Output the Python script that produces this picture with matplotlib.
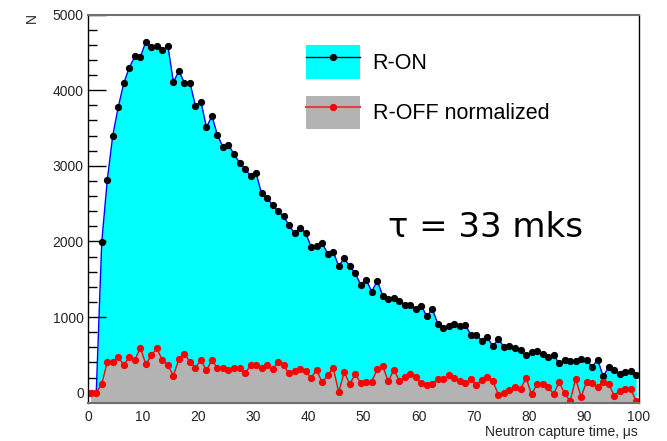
import numpy as np
import matplotlib
matplotlib.use('Agg')
import matplotlib.pyplot as plt
from matplotlib.patches import Patch
from matplotlib.lines import Line2D
from matplotlib.ticker import MultipleLocator

plt.rcParams['font.family'] = ['Liberation Sans', 'DejaVu Sans']

# bin centres, 1 us bins
t = np.arange(100) + 0.5

r_on = [0, 0, 1990, 2810, 3400, 3777, 4094, 4297, 4446, 4437,
        4640, 4569, 4587, 4525, 4587, 4107, 4252, 4099, 4099, 3795,
        3848, 3509, 3658, 3404, 3250, 3281, 3152, 3042, 2963, 2866,
        2906, 2636, 2575, 2482, 2400, 2332, 2213, 2107, 2183, 2112,
        1931, 1944, 1980, 1838, 1865, 1675, 1776, 1675, 1578, 1428,
        1494, 1335, 1481, 1279, 1239, 1256, 1212, 1164, 1164, 1105,
        1151, 1010, 1107, 909, 851, 886, 909, 877, 895, 763,
        763, 684, 731, 612, 714, 599, 612, 595, 566, 497,
        532, 545, 515, 466, 502, 387, 427, 423, 423, 450,
        432, 344, 437, 216, 339, 300, 242, 278, 282, 229]

r_off = [0, 0, 115, 405, 405, 475, 365, 475, 430, 597,
         378, 492, 585, 430, 365, 227, 443, 517, 405, 333,
         430, 298, 430, 324, 324, 298, 324, 324, 254, 360,
         360, 324, 360, 307, 410, 360, 254, 286, 311, 286,
         198, 303, 136, 228, 330, 9, 272, 115, 245, 130,
         145, 145, 311, 347, 150, 303, 160, 205, 247, 207,
         122, 103, 119, 176, 176, 229, 194, 154, 123, 176,
         106, 172, 211, 150, -30, -10, 37, 77, 45, 196,
         -20, 112, 112, 77, -20, 143, -7, -112, 183, -55,
         148, 122, 69, 148, 112, -37, 24, 46, 46, -112]

ymin, ymax = -140, 5000

fig = plt.figure(figsize=(6.67, 4.41), dpi=100)
ax = fig.add_axes([0.1319, 0.0855, 0.8261, 0.8816])

# R-ON
ax.fill_between(t, r_on, ymin, color='#00ffff', lw=0, zorder=1)
ax.plot(t, r_on, color='#0000ff', lw=1, zorder=2)
ax.plot(t, r_on, ls='none', marker='o', ms=4.2, color='black', zorder=3)

# R-OFF normalized
ax.fill_between(t, r_off, ymin, color='#b3b3b3', lw=0, zorder=4)
ax.plot(t, r_off, color='red', lw=1, zorder=5)
ax.plot(t, r_off, ls='none', marker='o', ms=4.2, color='red', zorder=6)

ax.set_xlim(0, 100)
ax.set_ylim(ymin, ymax)
ax.yaxis.set_major_locator(MultipleLocator(1000))
ax.yaxis.set_minor_locator(MultipleLocator(200))
ax.xaxis.set_major_locator(MultipleLocator(10))
ax.tick_params(axis='y', which='major', direction='in', length=12.7, width=1,
               labelsize=10, labelcolor='#262626', pad=3)
ax.tick_params(axis='y', which='minor', direction='in', length=6.7, width=1)
ax.tick_params(axis='x', which='both', length=0, labelsize=10,
               labelcolor='#262626', pad=5)

for s in ['top', 'bottom']:
    ax.spines[s].set_color('#6e6e6e')
    ax.spines[s].set_linewidth(1.5)
for s in ['left', 'right']:
    ax.spines[s].set_color('black')
    ax.spines[s].set_linewidth(1)
for s in ax.spines.values():
    s.set_zorder(7)

fig.text(638 / 667, 1 - 432 / 441, 'Neutron capture time, \u03bcs', ha='right',
         va='center', fontsize=10, color='#262626')
fig.text(32 / 667, 1 - 18 / 441, 'N', rotation=90, ha='center', va='center',
         fontsize=10, color='#262626')

handles = [(Patch(facecolor='#00ffff', edgecolor='none'),
            Line2D([], [], color='black', lw=1, marker='o', ms=4.2)),
           (Patch(facecolor='#b3b3b3', edgecolor='none'),
            Line2D([], [], color='#e04040', lw=1.5, marker='o', ms=4.2, mfc='red', mec='red'))]
ax.legend(handles, ['R-ON', 'R-OFF normalized'], loc='upper left',
          bbox_to_anchor=(0.3956, 0.9216), frameon=False, fontsize=15.5,
          borderpad=0, borderaxespad=0, handlelength=2.5, handleheight=2.05,
          handletextpad=0.6, labelspacing=0.77, numpoints=1)

fig.text(388 / 667, 1 - 237.3 / 441, '\u03c4 = 33 mks', ha='left', va='baseline',
         fontsize=24.5, family='DejaVu Sans', color='black')

fig.savefig('out.png', dpi=100)
